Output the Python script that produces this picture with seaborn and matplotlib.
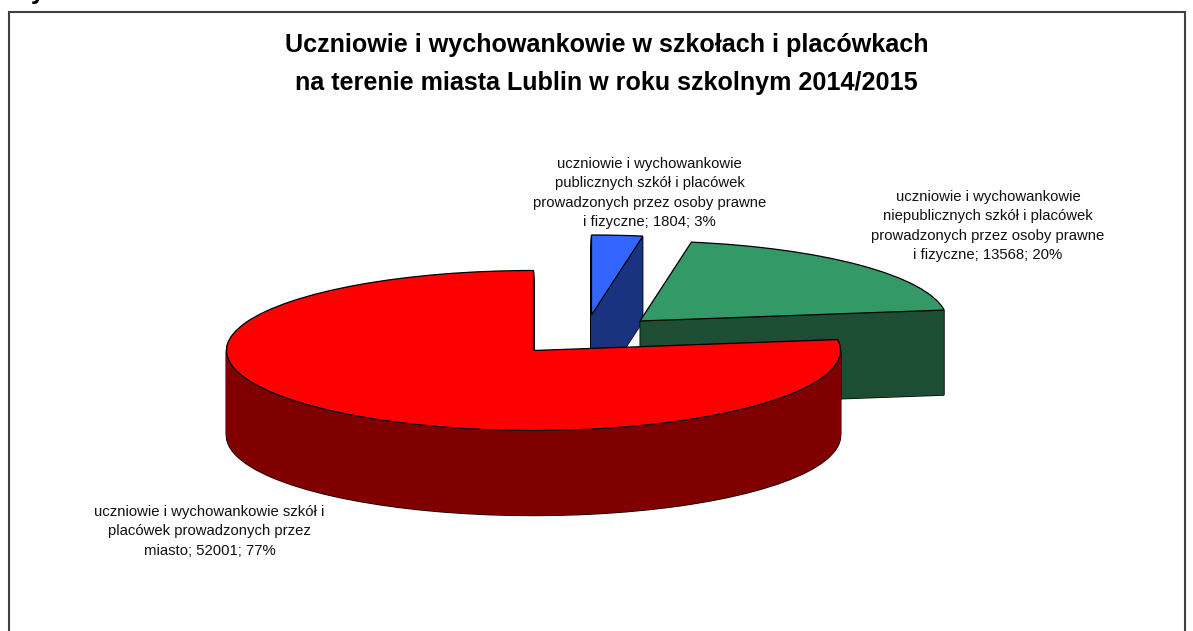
import matplotlib
matplotlib.use("Agg")
import matplotlib.pyplot as plt
from matplotlib.patches import Rectangle
import seaborn as sns

sns.set_theme(style="white")
plt.rcParams['font.family'] = ['Liberation Sans', 'DejaVu Sans']

TITLE = "Uczniowie i wychowankowie w szkołach i placówkach\nna terenie miasta Lublin w roku szkolnym 2014/2015"
slice_names = ["uczniowie i wychowankowie\npublicznych szkół i placówek\nprowadzonych przez osoby prawne\ni fizyczne",
               "uczniowie i wychowankowie\nniepublicznych szkół i placówek\nprowadzonych przez osoby prawne\ni fizyczne",
               "uczniowie i wychowankowie szkół i\nplacówek prowadzonych przez\nmiasto"]
values = [1804, 13568, 52001]
percents = [3, 20, 77]
top_colors = ["#3366FF", "#339966", "#FF0000"]
wall_colors = ["#1A3380", "#1D4D33", "#800000"]

W, H = 1193, 631
RX, RY, DEPTH = 307.0, 80.0, 85
APEX = (533.5, 350.5)
slice_apex = [(591.5, 315.0), (640.0, 321.0), (533.5, 350.5)]
label_pos = [(649.5, 193), (988, 226), (209.5, 531.5)]

fig = plt.figure(figsize=(W / 100, H / 100), dpi=100, facecolor="white")
ax = fig.add_axes([0, 0, 1, 1])


def one_slice(i, px, py, **kw):
    cx, cy = (px - APEX[0]) / RX, (APEX[1] - py) / RY
    wedges, _ = ax.pie(values, startangle=90, counterclock=False, center=(cx, cy),
                       radius=1, colors=top_colors, wedgeprops=kw)
    for j, w in enumerate(wedges):
        if j != i:
            w.remove()


for i, (px, py) in enumerate(slice_apex):
    for d in range(DEPTH, 0, -1):
        one_slice(i, px, py + d, facecolor="black", edgecolor="black", linewidth=1.0)
    for d in range(DEPTH, 0, -1):
        one_slice(i, px, py + d, facecolor=wall_colors[i], edgecolor="none", linewidth=0)
    one_slice(i, px, py, facecolor=top_colors[i], edgecolor="black", linewidth=0.9)

ax.set_aspect("auto")
ax.set_xlim((0 - APEX[0]) / RX, (W - APEX[0]) / RX)
ax.set_ylim((APEX[1] - H) / RY, (APEX[1] - 0) / RY)
ax.axis("off")

fig.add_artist(Rectangle((9 / W, -0.05), (1185 - 9) / W, 1.05 - 12 / H, transform=fig.transFigure,
                         fill=False, edgecolor="#404040", linewidth=1.5))

fig.text(606.5 / W, 1 - 64 / H, TITLE, ha="center", va="center", fontsize=18.1, fontweight="bold",
         color="black", linespacing=1.7)
for name, v, p, (x, y) in zip(slice_names, values, percents, label_pos):
    fig.text(x / W, 1 - y / H, f"{name}; {v}; {p}%", ha="center", va="center", fontsize=10.75,
             color="#111111", linespacing=1.46)
fig.text(38 / W, 1 + 1 / H, "y", ha="center", va="baseline", fontsize=18, fontweight="bold", color="black")

fig.savefig("out.png", dpi=100, facecolor="white")
